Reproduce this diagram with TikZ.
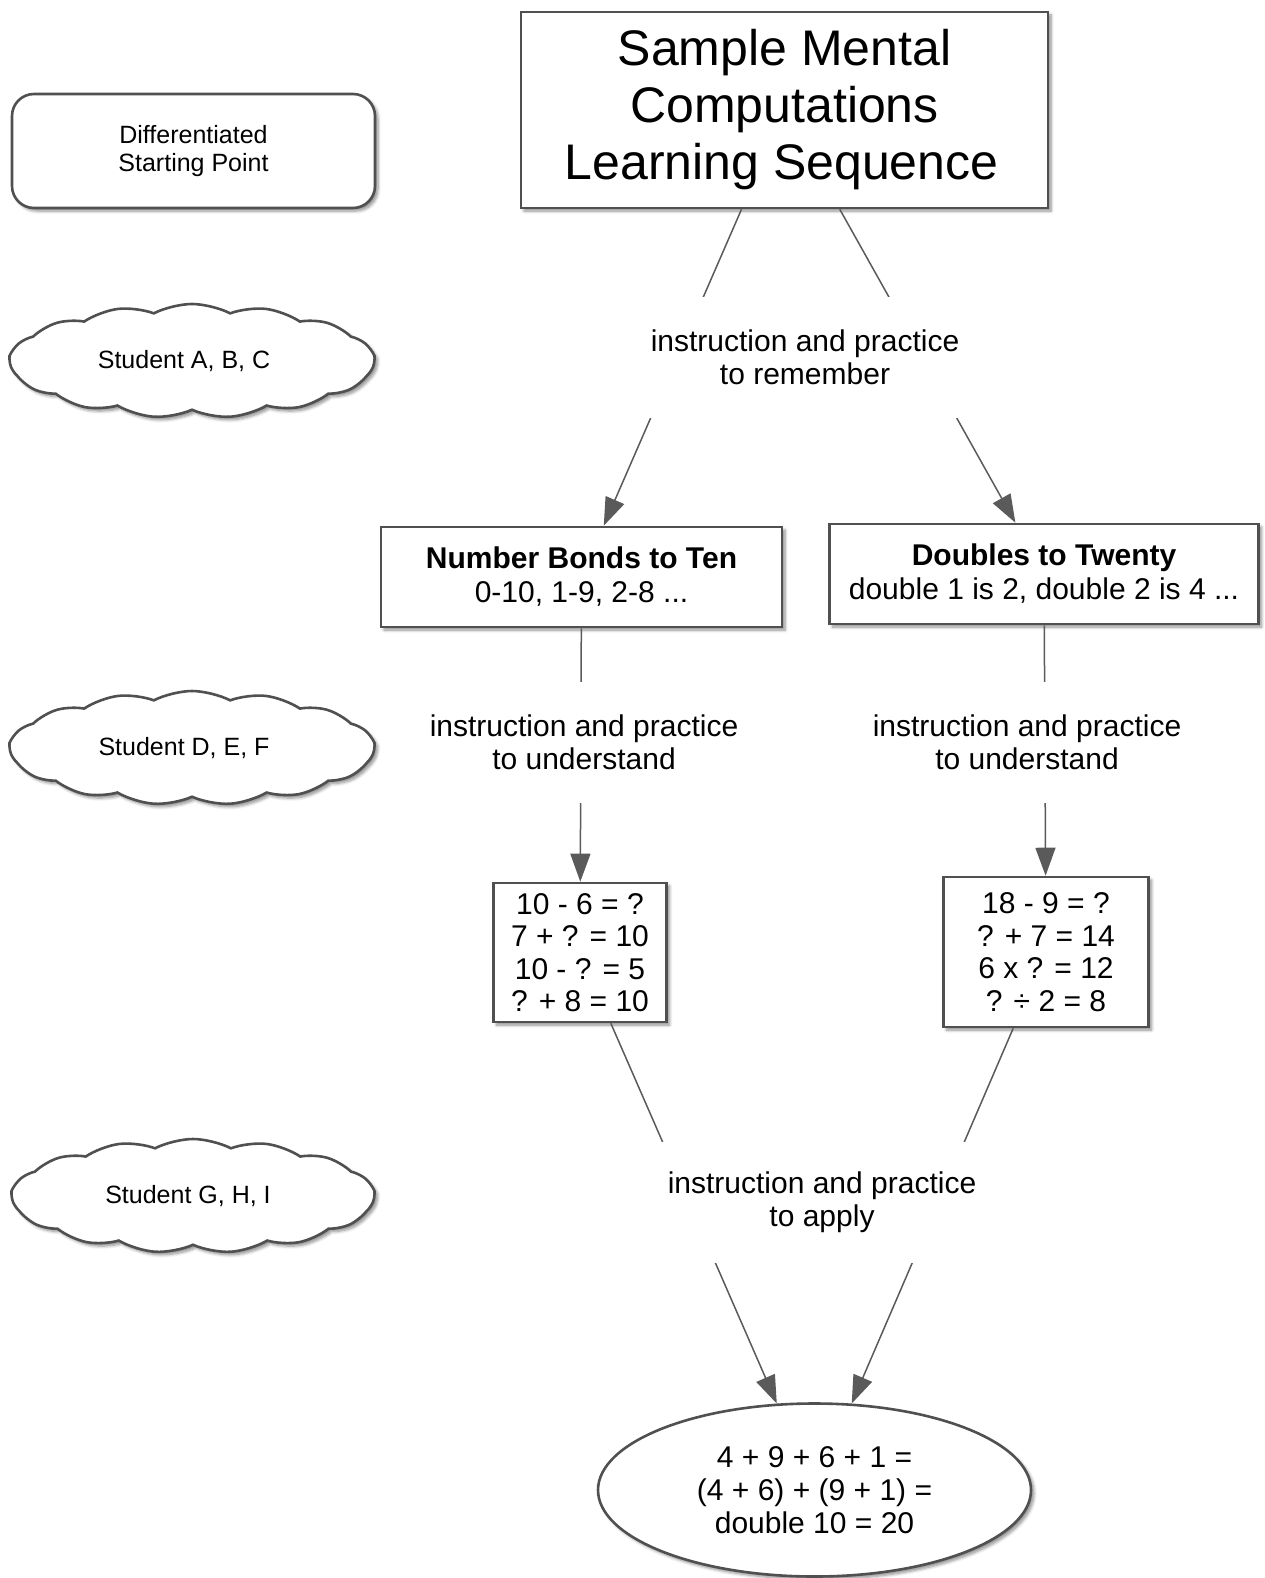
\documentclass[tikz,border=0pt]{standalone}
\usepackage{fontspec}
\setmainfont{Liberation Sans}
\usetikzlibrary{shapes.geometric,shapes.symbols,arrows.meta,shadows.blur}
\definecolor{edgegray}{HTML}{505050}
\definecolor{linegray}{HTML}{5A5A5A}
\begin{document}
\begin{tikzpicture}[x=1pt,y=-1pt,
  softshadow/.style={blur shadow={shadow xshift=3pt,shadow yshift=-3pt,shadow blur radius=3pt,shadow blur steps=6,shadow opacity=45}},
  frame/.style={draw=edgegray,line width=2.6pt,fill=white,softshadow,align=center,inner sep=0pt},
  boxfont/.style={font=\fontsize{30}{33}\selectfont},
  sidefont/.style={font=\fontsize{25}{28}\selectfont},
  puff/.style={frame,cloud,cloud puffs=15,cloud puff arc=55,aspect=3.2,sidefont},
  link/.style={draw=linegray,line width=1.5pt},
  arrowlink/.style={link,-{Triangle[length=28pt,width=20pt]}},
  lbl/.style={fill=white,align=center,boxfont,inner sep=0pt,minimum height=121pt,minimum width=340pt}
]
\useasboundingbox (0,0) rectangle (1264,1578);

% left column
\node[frame,rounded corners=22pt,minimum width=363pt,minimum height=114pt,sidefont]
  (start) at (193.5,151) {Differentiated\\Starting Point};
\node[puff,minimum width=364pt,minimum height=114pt] (abc) at (192,361) {Student A, B, C\hspace*{16pt}};
\node[puff,minimum width=364pt,minimum height=114pt] (def) at (192,748) {Student D, E, F\hspace*{16pt}};
\node[puff,minimum width=362pt,minimum height=114pt] (ghi) at (193,1196) {Student G, H, I\hspace*{10pt}};

% main sequence
\node[frame,minimum width=527pt,minimum height=196pt,font=\fontsize{50}{57}\selectfont]
  (title) at (784.5,110) {Sample Mental\\Computations\\Learning Sequence\hspace*{6pt}};
\node[frame,minimum width=401pt,minimum height=100pt,font=\fontsize{30}{34}\selectfont]
  (bonds) at (581.5,577) {\textbf{Number Bonds to Ten}\\0-10, 1-9, 2-8 ...};
\node[frame,minimum width=429pt,minimum height=100pt,font=\fontsize{30}{34}\selectfont]
  (doubles) at (1044,574) {\textbf{Doubles to Twenty}\\double 1 is 2, double 2 is 4 ...};
\node[frame,minimum width=173pt,minimum height=139pt,font=\fontsize{30}{32.5}\selectfont]
  (bondq) at (580,952.5) {10 - 6 = ?\\7 + ? = 10\\10 - ? = 5\\? + 8 = 10};
\node[frame,minimum width=205pt,minimum height=150pt,font=\fontsize{30}{32.5}\selectfont]
  (doubleq) at (1046,952) {18 - 9 = ?\\? + 7 = 14\\6 x ? = 12\\? ÷ 2 = 8};
\node[frame,ellipse,minimum width=433pt,minimum height=173pt,font=\fontsize{30}{33}\selectfont]
  (apply) at (814.5,1490) {4 + 9 + 6 + 1 =\\(4 + 6) + (9 + 1) =\\double 10 = 20};

% connectors
\draw[arrowlink] (title) -- (bonds);
\draw[arrowlink] (title) -- (doubles);
\draw[arrowlink] (bonds) -- (bondq);
\draw[arrowlink] (doubles) -- (doubleq);
\draw[arrowlink] (bondq) -- (apply);
\draw[arrowlink] (doubleq) -- (apply);

% connector labels, blanking the lines behind them
\node[lbl] (remember) at (805,357.5) {instruction and practice\\to remember};
\node[lbl] (underA) at (584,742.5) {instruction and practice\\to understand};
\node[lbl] (underB) at (1027,742.5) {instruction and practice\\to understand};
\node[lbl] (applying) at (822,1202.5) {instruction and practice\\to apply};
\end{tikzpicture}
\end{document}
